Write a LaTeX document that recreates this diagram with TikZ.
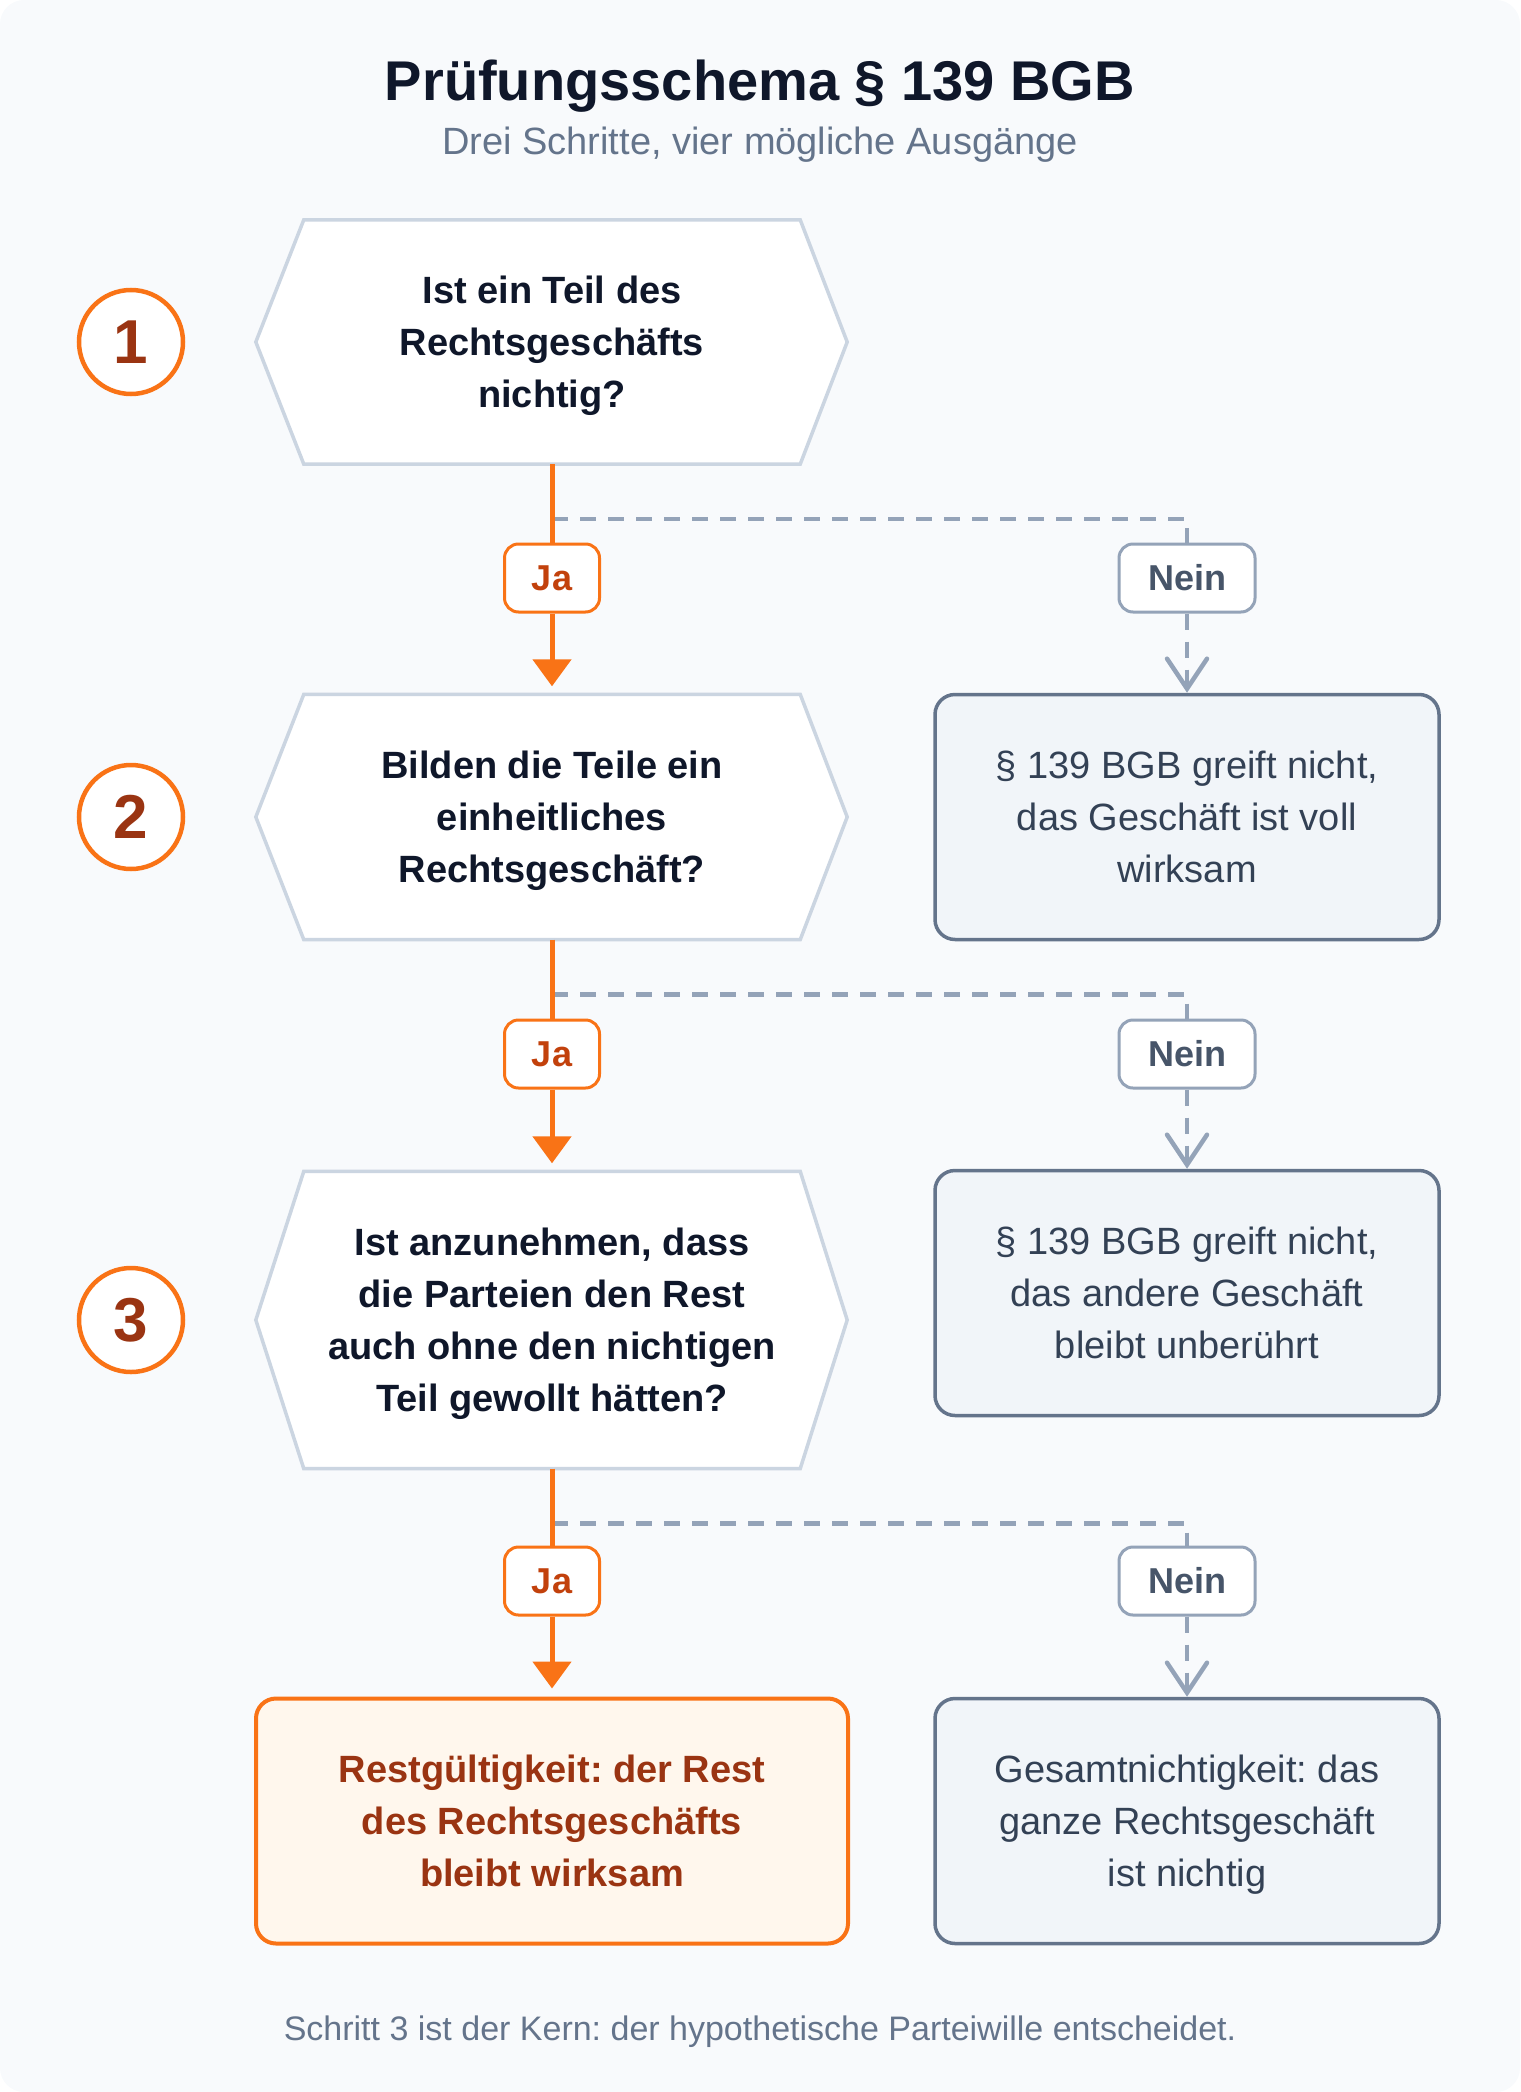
\documentclass[tikz,border=0pt]{standalone}
\usepackage{fontspec}
\setmainfont{Liberation Sans}
\usetikzlibrary{arrows.meta,backgrounds}
\frenchspacing
\definecolor{ink}{HTML}{0F172A}
\definecolor{muted}{HTML}{64748B}
\definecolor{cardbg}{HTML}{F8FAFC}
\definecolor{hexline}{HTML}{CBD5E1}
\definecolor{accent}{HTML}{F97316}
\definecolor{accentdark}{HTML}{9A3412}
\definecolor{accentbg}{HTML}{FFF7ED}
\definecolor{jatext}{HTML}{C2410C}
\definecolor{slate}{HTML}{64748B}
\definecolor{slatebg}{HTML}{F1F5F9}
\definecolor{slatetext}{HTML}{334155}
\definecolor{neinline}{HTML}{94A3B8}
\definecolor{neintext}{HTML}{475569}

\begin{document}
\begin{tikzpicture}[x=1pt, y=-1pt, inner sep=0pt,
		question/.style={minimum width=496pt, align=center, text depth=0pt, text=ink, font=\fontsize{38}{52}\selectfont\bfseries},
		outcome/.style={draw=slate, line width=3.5pt, fill=slatebg, rounded corners=20pt, minimum width=504pt, minimum height=245pt, align=center, text depth=0pt, text=slatetext, font=\fontsize{38}{52}\selectfont},
		result/.style={outcome, draw=accent, fill=accentbg, line width=4pt, minimum width=592pt, text=accentdark, font=\fontsize{38}{52}\selectfont\bfseries},
		stepnum/.style={circle, draw=accent, line width=4.5pt, fill=white, minimum size=104pt, text=accentdark, font=\fontsize{62}{62}\selectfont\bfseries},
		ja/.style={draw=accent, line width=3pt, fill=white, rounded corners=14pt, minimum width=95pt, minimum height=68pt, text=jatext, font=\fontsize{36}{36}\selectfont\bfseries},
		nein/.style={ja, draw=neinline, text=neintext, minimum width=136pt},
		yesline/.style={draw=accent, line width=5pt},
		noline/.style={draw=neinline, line width=4.5pt, dash pattern=on 16pt off 12pt}]
	\useasboundingbox (0,0) rectangle (1520,2092);

	\node[anchor=base, text=ink, font=\fontsize{56}{56}\selectfont\bfseries] (title) at (760,101) {Prüfungsschema § 139 BGB};
	\node[anchor=base, text=muted, font=\fontsize{38}{38}\selectfont] (subtitle) at (760,155) {Drei Schritte, vier mögliche Ausgänge};

	% questions
	\node[question, minimum height=244pt] (q1) at (552,342) {Ist ein Teil des\\Rechtsgeschäfts\\nichtig?};
	\node[question, minimum height=245pt] (q2) at (552,817) {Bilden die Teile ein\\einheitliches\\Rechtsgeschäft?};
	\node[question, minimum height=297pt] (q3) at (552,1320) {Ist anzunehmen, dass\\die Parteien den Rest\\auch ohne den nichtigen\\Teil gewollt hätten?};

	\node[stepnum] (c1) at (131,342) {1};
	\node[stepnum] (c2) at (131,817) {2};
	\node[stepnum] (c3) at (131,1320) {3};

	% outcomes
	\node[outcome] (o1) at (1187,817) {§ 139 BGB greift nicht,\\das Geschäft ist voll\\wirksam};
	\node[outcome] (o2) at (1187,1293) {§ 139 BGB greift nicht,\\das andere Geschäft\\bleibt unberührt};
	\node[outcome] (o3) at (1187,1821) {Gesamtnichtigkeit: das\\ganze Rechtsgeschäft\\ist nichtig};
	\node[result] (rest) at (552,1821) {Restgültigkeit: der Rest\\des Rechtsgeschäfts\\bleibt wirksam};

	% answers
	\node[ja] (ja1) at (552,578) {Ja};
	\node[ja] (ja2) at (552,1054) {Ja};
	\node[ja] (ja3) at (552,1581) {Ja};
	\node[nein] (nein1) at (1187,578) {Nein};
	\node[nein] (nein2) at (1187,1054) {Nein};
	\node[nein] (nein3) at (1187,1581) {Nein};

	\draw[noline] (q1.south) ++(0,55) -| (nein1.north);
	\draw[noline] (q2.south) ++(0,55) -| (nein2.north);
	\draw[noline] (q3.south) ++(0,55) -| (nein3.north);
	\draw[noline, -{Straight Barb[length=30pt,width=40pt,line cap=round]}] (nein1.south) -- (o1.north);
	\draw[noline, -{Straight Barb[length=30pt,width=40pt,line cap=round]}] (nein2.south) -- (o2.north);
	\draw[noline, -{Straight Barb[length=30pt,width=40pt,line cap=round]}] (nein3.south) -- (o3.north);

	\draw[yesline] (q1.south) -- (ja1.north);
	\draw[yesline] (q2.south) -- (ja2.north);
	\draw[yesline] (q3.south) -- (ja3.north);
	\draw[yesline, -{Triangle[length=27pt,width=38pt]}, shorten >=8pt] (ja1.south) -- (q2.north);
	\draw[yesline, -{Triangle[length=27pt,width=38pt]}, shorten >=8pt] (ja2.south) -- (q3.north);
	\draw[yesline, -{Triangle[length=27pt,width=38pt]}, shorten >=8pt] (ja3.south) -- (rest.north);

	\node[anchor=base, text=muted, font=\fontsize{34}{34}\selectfont] (note) at (760,2040) {Schritt 3 ist der Kern: der hypothetische Parteiwille entscheidet.};

	\begin{scope}[on background layer]
		\fill[cardbg] (0,0) [rounded corners=24pt] rectangle (1520,2092);
		\foreach \q in {q1,q2,q3}
			\draw[draw=hexline, fill=white, line width=3.5pt] (\q.north west) -- (\q.north east) -- ([xshift=47pt]\q.east) -- (\q.south east) -- (\q.south west) -- ([xshift=-48pt]\q.west) -- cycle;
	\end{scope}
\end{tikzpicture}
\end{document}
